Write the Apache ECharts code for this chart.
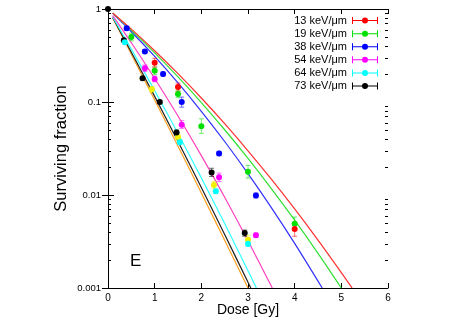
<!DOCTYPE html>
<html>
<head>
<meta charset="utf-8">
<script src="https://cdn.jsdelivr.net/npm/echarts@6/dist/echarts.min.js"></script>
<style>
  html, body { margin: 0; background: #fff; }
  #chart { width: 457px; height: 320px; }
</style>
</head>
<body>
<div id="chart"></div>
<script>
// LET groups, legend order
const names = ['13 keV/μm', '19 keV/μm', '38 keV/μm', '54 keV/μm', '64 keV/μm', '73 keV/μm']
const colors = ['#ff0000', '#00e000', '#0000ff', '#ff00ff', '#00ffff', '#000000']
const lineColors = ['#ff3030', '#30e030', '#3030ff', '#ff40c0', '#30ffff', '#202020']

// fitted survival curves [dose, S]
const curve13 = [[0.1, 0.907], [0.5, 0.607], [1, 0.356], [1.5, 0.2016], [2, 0.1104], [2.5, 0.0585], [3, 0.0299], [3.5, 0.01481], [4, 0.00708], [4.5, 0.00327], [5, 0.001463], [5.23, 0.001]]
const curve19 = [[0.1, 0.903], [0.5, 0.593], [1, 0.338], [1.5, 0.1861], [2, 0.0987], [2.5, 0.0503], [3, 0.0248], [3.5, 0.01174], [4, 0.00536], [4.5, 0.00236], [5, 0.001]]
const curve38 = [[0.1, 0.897], [0.5, 0.569], [1, 0.309], [1.5, 0.1603], [2, 0.0794], [2.5, 0.0376], [3, 0.017], [3.5, 0.00733], [4, 0.00302], [4.59, 0.001]]
const curve54 = [[0.1, 0.85], [0.5, 0.434], [1, 0.179], [1.5, 0.0706], [2, 0.0265], [2.5, 0.00947], [3, 0.00322], [3.52, 0.001]]
const curve64 = [[0.1, 0.822], [0.5, 0.37], [1, 0.1325], [1.5, 0.0458], [2, 0.01528], [2.5, 0.00493], [3, 0.00153], [3.18, 0.001]]
const curve73 = [[0.1, 0.809], [0.5, 0.343], [1, 0.115], [1.5, 0.0376], [2, 0.01206], [2.5, 0.00377], [3, 0.00115], [3.06, 0.001]]
const curveExtra = [[0.1, 0.8], [0.5, 0.326], [1, 0.105], [1.5, 0.0335], [2, 0.01051], [2.5, 0.00326], [3, 0.001]]

// measured points [dose, S, low, high]
const pts13 = [[1.0, 0.265, 0.237, 0.295], [1.5, 0.145, 0.13, 0.16], [4.0, 0.0043, 0.0036, 0.0051]]
const pts19 = [[0.5, 0.5, 0.455, 0.55], [1.0, 0.217, 0.197, 0.238], [1.5, 0.122, 0.111, 0.134], [2.0, 0.055, 0.046, 0.066], [3.0, 0.0178, 0.0152, 0.0208], [4.0, 0.0049, 0.0042, 0.0058]]
const pts38 = [[0.4, 0.62, 0.59, 0.65], [0.79, 0.35, 0.335, 0.365], [1.18, 0.2, 0.19, 0.21], [1.58, 0.1, 0.088, 0.113], [2.38, 0.028, 0.0265, 0.0295], [3.17, 0.0099, 0.0093, 0.0105]]
const pts54 = [[0.79, 0.23, 0.212, 0.25], [1.0, 0.177, 0.165, 0.19], [1.58, 0.057, 0.052, 0.063], [2.38, 0.0155, 0.014, 0.0172], [3.17, 0.0037, 0.0035, 0.0039]]
const pts64 = [[0.36, 0.44, 0.42, 0.46], [1.54, 0.037, 0.035, 0.039], [2.31, 0.011, 0.0104, 0.0116], [3.0, 0.003, 0.0028, 0.0032]]
const pts73 = [[0, 1, 1, 1], [0.34, 0.46, 0.44, 0.48], [0.74, 0.18, 0.172, 0.188], [1.11, 0.1, 0.096, 0.104], [1.47, 0.047, 0.044, 0.05], [2.22, 0.0175, 0.0158, 0.0194], [2.93, 0.0039, 0.0036, 0.0042]]
const ptsExtra = [[0.94, 0.137, 0.128, 0.146], [1.5, 0.042, 0.039, 0.045], [2.27, 0.0128, 0.0117, 0.014], [3.0, 0.0033, 0.003, 0.0037]]

const curves = [curve13, curve19, curve38, curve54, curve64, curve73]
const points = [pts13, pts19, pts38, pts54, pts64, pts73]

const yMinorMult = [2, 3, 4, 5, 6, 7, 8, 9]
const yDecades = [0.001, 0.01, 0.1]

let minorVals = []
yDecades.forEach((d) => yMinorMult.forEach((m) => minorVals.push([0, +(d * m).toPrecision(3)])))

const font = 'Liberation Sans, Arial, sans-serif'

function errRender(color) {
  return function (params, api) {
    let x = api.value(0)
    let lo = api.coord([x, api.value(2)])
    let hi = api.coord([x, api.value(3)])
    let st = { stroke: color, lineWidth: 1, opacity: 0.55 }
    return {
      type: 'group',
      children: [
        { type: 'line', shape: { x1: lo[0], y1: lo[1], x2: hi[0], y2: hi[1] }, style: st },
        { type: 'line', shape: { x1: lo[0] - 2.5, y1: lo[1], x2: lo[0] + 2.5, y2: lo[1] }, style: st },
        { type: 'line', shape: { x1: hi[0] - 2.5, y1: hi[1], x2: hi[0] + 2.5, y2: hi[1] }, style: st },
      ],
    }
  }
}

let series = []

function addGroup(name, curve, pts, color, lineColor) {
  series.push({
    type: 'line',
    name: name + ' fit',
    data: curve,
    smooth: 0.3,
    showSymbol: false,
    lineStyle: { color: lineColor, width: 1.2 },
    z: 2,
    silent: true,
  })
  series.push({
    type: 'custom',
    name: name + ' err',
    data: pts,
    renderItem: errRender(color),
    encode: { x: 0, y: 1 },
    z: 3,
    silent: true,
  })
  series.push({
    type: 'scatter',
    name: name,
    data: pts.map((p) => [p[0], p[1]]),
    symbolSize: 6,
    itemStyle: { color: color, opacity: 1 },
    z: 4,
  })
}

addGroup('extra', curveExtra, ptsExtra, '#f0f000', '#ffa020')
for (let i = names.length - 1; i >= 0; i--) {
  addGroup(names[i], curves[i], points[i], colors[i], lineColors[i])
}

// minor log ticks on left and right frame
series.push({
  type: 'custom',
  data: minorVals,
  silent: true,
  z: 5,
  renderItem: function (params, api) {
    let y = Math.round(api.coord([0, api.value(1)])[1]) + 0.5
    let cs = params.coordSys
    let st = { stroke: '#000', lineWidth: 1 }
    return {
      type: 'group',
      children: [
        { type: 'line', shape: { x1: cs.x, y1: y, x2: cs.x + 3, y2: y }, style: st },
        { type: 'line', shape: { x1: cs.x + cs.width - 3, y1: y, x2: cs.x + cs.width, y2: y }, style: st },
      ],
    }
  },
})

const legendIcon = 'path://M0,0h1v7h-1z M25,0h1v7h-1z M0,3h26v1h-26z M13,0.5a3,3 0 1,1 0,6a3,3 0 1,1 0,-6z'

let chart = echarts.init(document.getElementById('chart'), null, { renderer: 'canvas' })

let option = {
  animation: false,
  backgroundColor: '#fff',
  textStyle: { fontFamily: font },
  grid: { left: 108, right: 69, top: 9, bottom: 32, outerBoundsMode: 'none', containLabel: false },
  legend: {
    data: names.map((n) => ({ name: n, icon: legendIcon })),
    orient: 'vertical',
    align: 'right',
    right: 79,
    top: 14,
    padding: 0,
    itemWidth: 26,
    itemHeight: 7,
    itemGap: 0,
    selectedMode: false,
    textStyle: { fontSize: 11, color: '#000', fontFamily: font, lineHeight: 13.1 },
  },
  xAxis: [
    {
      type: 'value',
      min: 0,
      max: 6,
      interval: 1,
      name: 'Dose [Gy]',
      nameLocation: 'middle',
      nameGap: 15,
      nameMoveOverlap: false,
      nameTextStyle: { fontSize: 14, color: '#000', fontFamily: font },
      axisLine: { lineStyle: { color: '#000', width: 1 } },
      axisTick: { inside: true, length: 5, lineStyle: { color: '#000' } },
      axisLabel: { fontSize: 10, color: '#000', margin: 5 },
      splitLine: { show: false },
    },
    {
      type: 'value',
      position: 'top',
      min: 0,
      max: 6,
      interval: 1,
      axisLine: { show: true, lineStyle: { color: '#000', width: 1 } },
      axisTick: { inside: true, length: 5, lineStyle: { color: '#000' } },
      axisLabel: { show: false },
      splitLine: { show: false },
    },
  ],
  yAxis: [
    {
      type: 'log',
      logBase: 10,
      min: 0.001,
      max: 1,
      name: 'Surviving fraction',
      nameLocation: 'middle',
      nameGap: 38,
      nameMoveOverlap: false,
      nameTextStyle: { fontSize: 16.5, color: '#000', fontFamily: font },
      axisLine: { show: true, lineStyle: { color: '#000', width: 1 } },
      axisTick: { inside: true, length: 6, lineStyle: { color: '#000' } },
      axisLabel: { fontSize: 9.5, color: '#000', margin: 7, formatter: (v) => String(v) },
      splitLine: { show: false },
    },
    {
      type: 'log',
      logBase: 10,
      min: 0.001,
      max: 1,
      position: 'right',
      axisLine: { show: true, lineStyle: { color: '#000', width: 1 } },
      axisTick: { inside: true, length: 6, lineStyle: { color: '#000' } },
      axisLabel: { show: false },
      splitLine: { show: false },
    },
  ],
  graphic: [
    {
      type: 'text',
      left: 130,
      top: 253,
      style: { text: 'E', fontSize: 17, fill: '#000', fontFamily: font },
    },
  ],
  series: series,
}

chart.setOption(option)
</script>
</body>
</html>
